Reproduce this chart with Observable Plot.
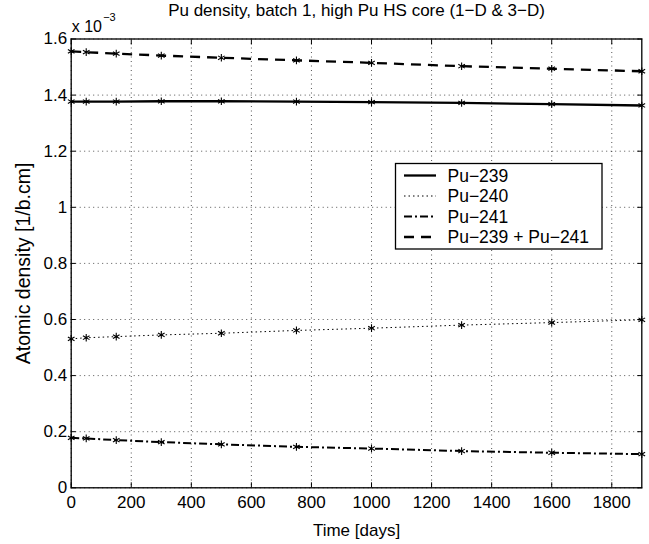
<!DOCTYPE html>
<html>
<head>
<meta charset="utf-8">
<script src="https://cdn.jsdelivr.net/npm/d3@7"></script>
<script src="https://cdn.jsdelivr.net/npm/@observablehq/plot@0.6"></script>
<style>
  body { margin: 0; background: #fff; }
  #wrap { position: relative; width: 649px; height: 544px; font-family: "Liberation Sans", Arial, sans-serif; }
  #legend { position: absolute; left: 0; top: 0; }
</style>
</head>
<body>
<div id="wrap"></div>
<script>
const days = [0, 50, 150, 300, 500, 750, 1000, 1300, 1600, 1900];
const pu239 = [1.377, 1.377, 1.377, 1.378, 1.378, 1.377, 1.375, 1.372, 1.368, 1.363];
const pu240 = [0.531, 0.535, 0.539, 0.545, 0.551, 0.561, 0.569, 0.580, 0.589, 0.599];
const pu241 = [0.178, 0.176, 0.170, 0.163, 0.155, 0.146, 0.140, 0.131, 0.125, 0.120];
const pu239plus241 = [1.556, 1.553, 1.548, 1.541, 1.533, 1.524, 1.515, 1.503, 1.494, 1.485];
const seriesNames = ["Pu−239", "Pu−240", "Pu−241", "Pu−239 + Pu−241"];
const xTicks = [0, 200, 400, 600, 800, 1000, 1200, 1400, 1600, 1800];
const yTicks = [0, 0.2, 0.4, 0.6, 0.8, 1, 1.2, 1.4, 1.6];
const title = "Pu density, batch 1, high Pu HS core (1−D & 3−D)";
const xLabel = "Time [days]";
const yLabel = "Atomic density [1/b.cm]";

const seriesValues = [pu239, pu240, pu241, pu239plus241];
const styles = [
  {strokeWidth: 2.3, dash: null},
  {strokeWidth: 1, dash: "1.5,3"},
  {strokeWidth: 2, dash: "8,3,2,3"},
  {strokeWidth: 2.3, dash: "10,7"}
];
const data = seriesNames.flatMap((s, i) => days.map((d, j) => ({series: s, t: d, v: seriesValues[i][j]})));

const font = "Liberation Sans, Arial, sans-serif";
const W = 649, H = 544;
const ml = 70.7, mr = 7.7, mt = 38.5, mb = 56.7;

const chart = Plot.plot({
  width: W, height: H,
  marginLeft: ml, marginRight: mr, marginTop: mt, marginBottom: mb,
  style: {fontFamily: font, fontSize: "17px", color: "black", background: "white", overflow: "visible"},
  x: {domain: [0, 1900], ticks: xTicks},
  y: {domain: [0, 1.6], ticks: yTicks},
  marks: [
    Plot.gridX(xTicks, {stroke: "black", strokeOpacity: 0.85, strokeDasharray: "1,3.5", strokeWidth: 0.8}),
    Plot.gridY(yTicks, {stroke: "black", strokeOpacity: 0.85, strokeDasharray: "1,3.5", strokeWidth: 0.8}),
    ...seriesNames.map((s, i) => Plot.line(data.filter(d => d.series === s), {
      x: "t", y: "v", stroke: "black", strokeWidth: styles[i].strokeWidth,
      strokeDasharray: styles[i].dash, strokeLinecap: "butt"
    })),
    Plot.dot(data, {x: "t", y: "v", symbol: "asterisk", r: 3.6, stroke: "black", strokeWidth: 1.1}),
    Plot.frame({stroke: "black", strokeWidth: 1.3}),
    Plot.axisX(xTicks, {anchor: "bottom", tickSize: -5, tickPadding: 13, tickFormat: d3.format("d"), fontSize: 17,
      label: xLabel, labelAnchor: "center", labelOffset: 48, labelArrow: "none"}),
    Plot.axisX(xTicks, {anchor: "top", tickSize: -5, tickFormat: () => "", label: null}),
    Plot.axisY(yTicks, {anchor: "left", tickSize: -5, tickPadding: 9, tickFormat: d3.format("~g"), fontSize: 17,
      label: null}),
    Plot.axisY(yTicks, {anchor: "left", tickSize: 0, tickFormat: () => "", fontSize: 19.5,
      label: yLabel, labelAnchor: "center", labelOffset: 55.5, labelArrow: "none"}),
    Plot.axisY(yTicks, {anchor: "right", tickSize: -5, tickFormat: () => "", label: null}),
    Plot.text([title], {frameAnchor: "top", lineAnchor: "middle", dy: -28.3, fontSize: 17, text: d => d}),
    Plot.text(["x 10"], {frameAnchor: "top-left", lineAnchor: "middle", dy: -11.9, dx: 0.5, textAnchor: "start", fontSize: 16, text: d => d}),
    Plot.text(["−3"], {frameAnchor: "top-left", lineAnchor: "middle", dy: -21.3, dx: 32, textAnchor: "start", fontSize: 11, text: d => d})
  ]
});
document.getElementById("wrap").appendChild(chart);

// Legend built from the series arrays
const lg = d3.select("#wrap").append("svg").attr("id", "legend").attr("width", W).attr("height", H);
const box = {x: 395.5, y: 163.5, w: 206.5, h: 85.5};
lg.append("rect").attr("x", box.x).attr("y", box.y).attr("width", box.w).attr("height", box.h)
  .attr("fill", "white").attr("stroke", "black").attr("stroke-width", 1.3);
const rowY = [175.5, 196, 216.5, 237];
seriesNames.forEach((s, i) => {
  lg.append("line").attr("x1", 404).attr("x2", 436).attr("y1", rowY[i]).attr("y2", rowY[i])
    .attr("stroke", "black").attr("stroke-width", styles[i].strokeWidth)
    .attr("stroke-dasharray", styles[i].dash);
  lg.append("text").attr("x", 447.5).attr("y", rowY[i]).attr("dy", "0.36em")
    .attr("font-family", font).attr("font-size", 17.5).text(s);
});
</script>
</body>
</html>
